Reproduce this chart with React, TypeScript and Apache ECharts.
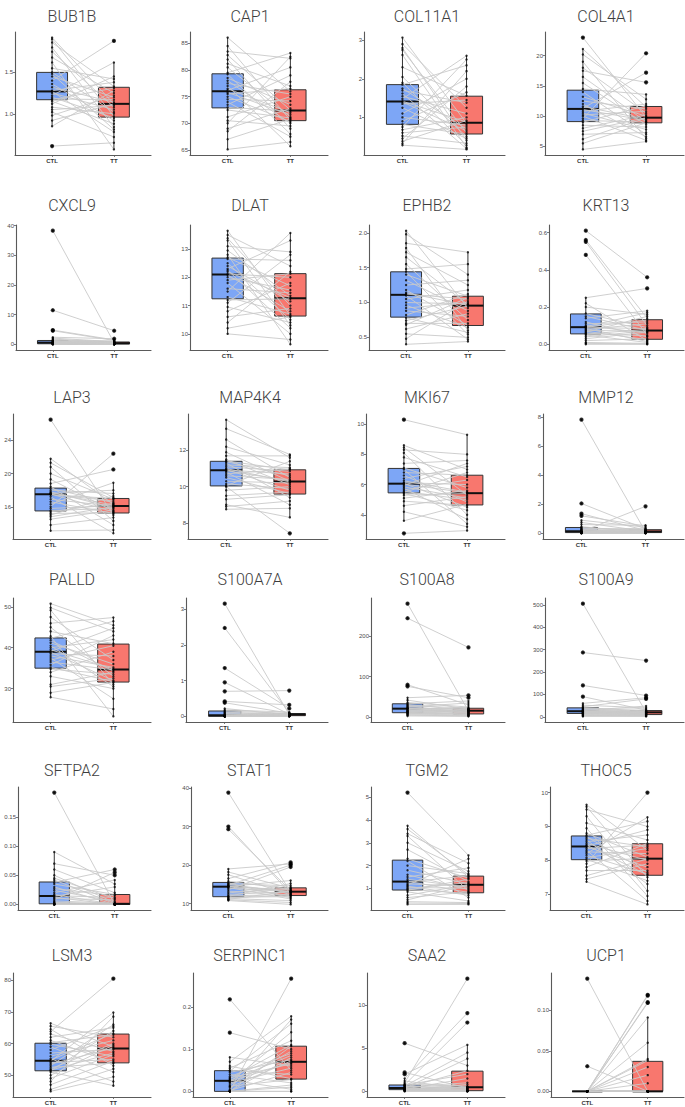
import React, { useEffect, useRef } from "react";
import * as echarts from "echarts";

const GROUPS = ["CTL", "TT"];

const BUB1B_CTL = [1.92,1.90,1.86,1.80,1.75,1.68,1.62,1.55,1.50,1.48,1.45,1.40,1.36,1.32,1.28,1.27,1.25,1.22,1.20,1.18,1.17,1.15,1.12,1.08,1.05,1.02,0.98,0.92,0.85,0.61];
const BUB1B_TT = [1.12,0.97,1.33,0.84,1.08,1.25,0.57,1.42,1.02,0.81,1.20,1.88,0.92,1.14,1.38,0.78,1.05,1.62,0.95,1.17,1.31,0.88,1.45,1.00,1.10,0.72,1.22,1.12,1.28,0.65];
const BUB1B_BOX_CTL = [0.85,1.17,1.27,1.50,1.92];
const BUB1B_BOX_TT = [0.57,0.96,1.12,1.32,1.62];
const BUB1B_TICKS = ["1.0","1.5"];

const CAP1_CTL = [86.1,84.5,83.5,82.8,82.0,81.2,80.5,79.5,79.2,78.5,78.0,77.5,77.0,76.5,76.2,75.8,75.5,75.0,74.5,74.0,73.5,73.0,72.5,71.2,70.5,70.0,69.0,68.5,67.0,65.1];
const CAP1_TT = [76.0,70.6,82.2,72.5,69.0,77.0,71.2,83.2,68.0,73.5,70.0,75.5,65.7,72.0,80.5,71.6,76.5,70.3,74.2,67.5,79.0,72.3,71.0,75.0,69.5,82.5,72.8,77.8,70.8,66.5];
const CAP1_BOX_CTL = [65.1,72.9,76.0,79.3,86.1];
const CAP1_BOX_TT = [65.7,70.5,72.4,76.3,83.2];
const CAP1_TICKS = ["65","70","75","80","85"];

const COL11A1_CTL = [3.07,2.90,2.80,2.75,2.62,2.30,2.05,1.90,1.85,1.75,1.70,1.62,1.55,1.48,1.42,1.40,1.35,1.25,1.10,1.00,0.90,0.82,0.75,0.68,0.60,0.52,0.45,0.38,0.32,0.28];
const COL11A1_TT = [0.85,1.25,0.40,0.60,0.22,1.56,0.50,0.28,2.35,0.70,1.38,0.19,1.10,2.60,0.88,0.65,1.45,0.45,2.00,0.80,1.65,0.56,2.50,1.00,0.75,0.33,1.80,0.92,2.20,0.17];
const COL11A1_BOX_CTL = [0.28,0.82,1.41,1.85,3.07];
const COL11A1_BOX_TT = [0.17,0.57,0.86,1.55,2.6];
const COL11A1_TICKS = ["1","2","3"];

const COL4A1_CTL = [23.0,21.1,20.2,19.0,18.0,17.5,16.5,15.5,14.5,14.0,13.2,12.5,12.0,11.6,11.3,11.1,10.8,10.5,10.2,10.0,9.6,9.3,9.0,8.5,8.0,7.5,7.0,6.2,5.5,4.5];
const COL4A1_TT = [9.8,11.5,12.8,6.3,10.5,15.6,9.1,8.6,13.6,7.0,10.0,11.2,6.6,9.5,17.2,9.3,12.0,7.8,10.8,6.0,20.4,9.0,11.7,8.2,10.2,9.75,7.3,9.7,8.9,5.8];
const COL4A1_BOX_CTL = [4.5,9.1,11.2,14.3,21.1];
const COL4A1_BOX_TT = [5.8,8.9,9.75,11.6,13.6];
const COL4A1_TICKS = ["5","10","15","20"];

const CXCL9_CTL = [38.3,11.5,4.8,4.6,2.4,2.1,1.8,1.5,1.3,1.2,1.1,1.0,0.9,0.8,0.7,0.6,0.55,0.5,0.45,0.4,0.35,0.3,0.25,0.2,0.15,0.12,0.1,0.08,0.05,0.02];
const CXCL9_TT = [0.5,4.6,1.5,1.3,1.9,0.9,0.4,1.1,0.7,0.2,1.0,0.3,0.8,0.15,0.6,0.45,0.1,0.75,0.25,0.55,0.05,0.35,0.12,0.42,0.08,0.22,0.03,0.06,0.02,0.01];
const CXCL9_BOX_CTL = [0.02,0.2,0.6,1.3,2.4];
const CXCL9_BOX_TT = [0.01,0.1,0.4,0.8,1.5];
const CXCL9_TICKS = ["0","10","20","30","40"];

const DLAT_CTL = [13.65,13.5,13.38,13.3,13.1,12.95,12.8,12.7,12.65,12.5,12.4,12.3,12.25,12.2,12.12,12.08,12.0,11.9,11.8,11.6,11.5,11.3,11.2,11.1,10.95,10.8,10.6,10.4,10.2,10.0];
const DLAT_TT = [10.65,12.4,11.0,10.3,12.9,11.35,9.63,11.7,12.6,10.5,11.15,13.3,10.2,11.28,12.0,10.8,11.55,12.13,10.0,11.45,13.57,10.7,11.24,12.8,10.4,11.8,10.9,12.2,10.6,9.8];
const DLAT_BOX_CTL = [10.0,11.24,12.1,12.68,13.65];
const DLAT_BOX_TT = [9.63,10.63,11.26,12.13,13.57];
const DLAT_TICKS = ["10","11","12","13"];

const EPHB2_CTL = [2.03,1.98,1.85,1.78,1.72,1.65,1.55,1.48,1.44,1.40,1.32,1.25,1.18,1.14,1.12,1.10,1.05,1.00,0.96,0.92,0.88,0.82,0.78,0.74,0.70,0.68,0.62,0.55,0.48,0.40];
const EPHB2_TT = [0.92,1.40,1.72,0.60,1.25,0.97,0.75,1.55,0.54,1.09,0.88,1.32,0.67,0.96,1.05,0.47,1.18,0.98,0.64,1.00,0.80,1.12,0.57,0.95,0.70,1.07,0.84,0.50,1.02,0.44];
const EPHB2_BOX_CTL = [0.40,0.79,1.11,1.44,2.03];
const EPHB2_BOX_TT = [0.44,0.67,0.955,1.09,1.72];
const EPHB2_TICKS = ["0.5","1.0","1.5","2.0"];

const KRT13_CTL = [0.61,0.56,0.55,0.48,0.25,0.22,0.20,0.165,0.15,0.14,0.12,0.11,0.10,0.095,0.093,0.09,0.085,0.08,0.075,0.07,0.065,0.06,0.055,0.05,0.04,0.03,0.02,0.01,0.005,0.0];
const KRT13_TT = [0.36,0.14,0.10,0.05,0.30,0.02,0.16,0.09,0.075,0.18,0.04,0.12,0.06,0.17,0.13,0.085,0.015,0.11,0.07,0.025,0.15,0.045,0.08,0.01,0.073,0.065,0.03,0.005,0.002,0.0];
const KRT13_BOX_CTL = [0,0.056,0.092,0.163,0.25];
const KRT13_BOX_TT = [0,0.027,0.074,0.132,0.18];
const KRT13_TICKS = ["0.0","0.2","0.4","0.6"];

const LAP3_CTL = [26.5,21.8,21.3,20.8,20.0,19.3,18.8,18.4,18.2,18.0,17.8,17.7,17.6,17.55,17.5,17.45,17.2,16.9,16.6,16.3,16.0,15.8,15.55,15.4,15.2,15.0,14.8,14.5,13.8,13.1];
const LAP3_TT = [15.0,16.3,17.1,14.3,16.9,15.5,20.5,13.8,16.5,17.6,15.9,16.2,18.0,15.4,16.7,17.0,12.8,16.08,15.2,18.9,22.4,16.12,15.8,16.4,15.28,17.3,16.0,15.6,14.7,13.2];
const LAP3_BOX_CTL = [13.1,15.5,17.5,18.25,21.8];
const LAP3_BOX_TT = [12.8,15.25,16.1,17.0,18.9];
const LAP3_TICKS = ["16","20","24"];

const MAP4K4_CTL = [13.7,13.2,12.6,12.2,11.9,11.7,11.5,11.42,11.38,11.3,11.2,11.1,11.0,10.95,10.92,10.88,10.8,10.7,10.6,10.5,10.3,10.15,10.05,10.0,9.8,9.5,9.3,9.0,8.9,8.75];
const MAP4K4_TT = [11.6,11.78,10.5,11.2,10.3,11.7,10.1,10.93,10.6,9.4,11.05,10.85,10.26,9.8,10.7,10.32,9.0,10.98,10.4,9.62,10.2,9.9,11.4,7.42,10.0,9.7,9.55,8.3,9.2,8.8];
const MAP4K4_BOX_CTL = [8.75,10.04,10.9,11.4,13.7];
const MAP4K4_BOX_TT = [8.3,9.59,10.28,10.93,11.78];
const MAP4K4_TICKS = ["8","10","12"];

const MKI67_CTL = [10.3,8.6,8.45,8.3,8.1,7.8,7.4,7.1,7.0,6.8,6.6,6.4,6.25,6.12,6.08,6.04,5.95,5.85,5.75,5.65,5.55,5.48,5.42,5.3,5.1,4.9,4.6,4.2,3.6,2.77];
const MKI67_TT = [9.3,7.0,5.3,8.0,4.0,6.5,7.6,5.8,3.4,6.62,4.85,7.2,5.5,6.0,4.5,5.45,7.4,5.1,3.7,6.3,5.0,6.8,4.3,5.41,5.6,4.62,5.2,3.2,4.7,2.95];
const MKI67_BOX_CTL = [3.6,5.45,6.06,7.07,8.6];
const MKI67_BOX_TT = [2.95,4.65,5.43,6.62,9.3];
const MKI67_TICKS = ["4","6","8","10"];

const MMP12_CTL = [7.8,2.05,1.35,1.2,0.9,0.75,0.6,0.45,0.4,0.35,0.3,0.26,0.22,0.19,0.16,0.14,0.12,0.1,0.09,0.08,0.07,0.06,0.05,0.045,0.04,0.03,0.02,0.015,0.01,0.0];
const MMP12_TT = [0.1,0.3,0.2,0.5,0.42,0.14,0.55,0.07,0.16,0.25,0.05,0.35,0.12,0.08,0.27,0.03,1.85,0.18,0.115,0.22,0.06,0.13,0.09,0.02,0.075,0.04,0.055,0.015,0.01,0.0];
const MMP12_BOX_CTL = [0,0.05,0.15,0.4,0.9];
const MMP12_BOX_TT = [0,0.05,0.12,0.25,0.55];
const MMP12_TICKS = ["0","2","4","6","8"];

const PALLD_CTL = [50.8,49.8,49.2,47.5,46.0,45.0,44.0,42.8,42.3,41.8,41.2,40.5,40.0,39.5,39.1,38.9,38.5,38.0,37.5,37.0,36.5,35.8,35.2,34.8,34.0,33.0,31.0,30.5,29.0,27.9];
const PALLD_TT = [45.5,44.0,31.0,37.0,47.4,33.0,41.0,23.2,46.5,34.3,36.0,30.5,42.0,34.8,44.8,32.0,38.0,35.2,27.5,40.5,34.6,43.0,31.7,33.5,39.0,30.0,34.0,32.5,31.5,25.0];
const PALLD_BOX_CTL = [27.9,35.0,39.0,42.4,50.8];
const PALLD_BOX_TT = [23.2,31.6,34.7,40.9,47.4];
const PALLD_TICKS = ["30","40","50"];

const S100A7A_CTL = [3.15,2.47,1.35,0.95,0.70,0.42,0.38,0.22,0.18,0.15,0.12,0.1,0.08,0.06,0.04,0.03,0.02,0.015,0.01,0.008,0.005,0.003,0.002,0.001,0,0,0,0,0,0];
const S100A7A_TT = [0.05,0.1,0.22,0.06,0.72,0.32,0.09,0.04,0.12,0.085,0.03,0.075,0.02,0.065,0.08,0.01,0.055,0.052,0.07,0.048,0.045,0.035,0.025,0.018,0.015,0.008,0.005,0.003,0.001,0];
const S100A7A_BOX_CTL = [0,0,0.03,0.15,0.22];
const S100A7A_BOX_TT = [0,0.02,0.05,0.08,0.12];
const S100A7A_TICKS = ["0","1","2","3"];

const S100A8_CTL = [280,244,80,76,48,42,36,33,31,29,27,25,23,22,21.5,20.5,19,17,16,15,14,13,12,11,10,9,8,6,5,3];
const S100A8_TT = [15,172,30,48,54,20,25,40,17,22,12,35,19,9,21,16.5,14,11,18,7,17.5,13,6,15.5,10,8,5,4,3,2];
const S100A8_BOX_CTL = [3,11,21,33,48];
const S100A8_BOX_TT = [2,8,16,22,40];
const S100A8_TICKS = ["0","100","200"];

const S100A9_CTL = [505,287,140,90,60,52,45,41,38,35,32,30,28,26,25.5,24.5,23,21,20,18,17,16,15,14,12,10,8,6,4,2];
const S100A9_TT = [20.5,251,95,30,85,40,80,26,22,35,17,24,48,15,23,14,28,19.5,12,21,18,10,16,9,11,8,6,5,3,2];
const S100A9_BOX_CTL = [2,15,25,40,60];
const S100A9_BOX_TT = [2,10,20,28,48];
const S100A9_TICKS = ["0","100","200","300","400","500"];

const SFTPA2_CTL = [0.192,0.09,0.07,0.06,0.05,0.045,0.042,0.038,0.035,0.03,0.027,0.024,0.02,0.017,0.015,0.014,0.012,0.01,0.008,0.006,0.004,0.003,0.002,0.001,0.001,0,0,0,0,0];
const SFTPA2_TT = [0,0.035,0.05,0.02,0.003,0.01,0.001,0.06,0.017,0,0.015,0.005,0.042,0,0.012,0.03,0,0.008,0.055,0.002,0,0.001,0,0,0,0,0,0,0,0];
const SFTPA2_BOX_CTL = [0,0.001,0.0144,0.0385,0.09];
const SFTPA2_BOX_TT = [0,0,0.001,0.017,0.042];
const SFTPA2_TICKS = ["0.00","0.05","0.10","0.15"];

const STAT1_CTL = [38.8,30.0,29.3,19.0,18.2,17.5,16.5,15.8,15.4,15.2,15.0,14.8,14.6,14.5,14.42,14.38,14.2,14.0,13.6,13.2,12.8,12.4,12.0,11.9,11.7,11.5,11.3,11.1,11.0,10.8];
const STAT1_TT = [13.0,12.6,13.4,20.3,14.0,12.3,20.7,13.8,11.5,14.6,12.9,20.0,13.2,12.05,16.0,13.6,11.2,13.12,19.5,12.8,14.1,13.08,12.4,15.2,11.8,12.15,10.8,13.3,10.3,9.8];
const STAT1_BOX_CTL = [10.8,11.8,14.4,15.5,19.0];
const STAT1_BOX_TT = [9.8,12.1,13.1,14.1,16.0];
const STAT1_TICKS = ["10","20","30","40"];

const TGM2_CTL = [5.2,3.75,3.6,3.4,3.3,3.0,2.7,2.3,2.2,2.0,1.8,1.6,1.5,1.4,1.32,1.28,1.2,1.15,1.1,1.05,1.0,0.96,0.92,0.85,0.7,0.6,0.5,0.42,0.36,0.3];
const TGM2_TT = [2.45,1.5,1.6,2.1,0.9,1.75,1.3,1.45,0.6,1.65,1.2,0.95,1.9,1.05,0.82,1.55,1.1,2.3,0.7,1.0,1.25,0.78,1.4,0.45,1.17,0.85,1.15,0.38,0.34,0.3];
const TGM2_BOX_CTL = [0.3,0.93,1.3,2.24,3.75];
const TGM2_BOX_TT = [0.3,0.81,1.16,1.54,2.45];
const TGM2_TICKS = ["1","2","3","4","5"];

const THOC5_CTL = [9.64,9.58,9.5,9.3,9.1,8.95,8.8,8.74,8.7,8.65,8.6,8.55,8.5,8.45,8.42,8.4,8.35,8.3,8.25,8.2,8.15,8.08,8.03,7.98,7.9,7.8,7.7,7.55,7.45,7.37];
const THOC5_TT = [8.3,7.5,9.0,7.1,8.6,6.95,8.1,9.15,7.65,8.4,7.3,8.75,8.0,7.57,8.9,7.8,8.45,6.8,8.2,9.27,7.6,8.35,7.4,8.06,10.0,8.5,7.7,8.04,7.9,6.7];
const THOC5_BOX_CTL = [7.37,8.02,8.41,8.72,9.64];
const THOC5_BOX_TT = [6.7,7.56,8.05,8.49,9.27];
const THOC5_TICKS = ["7","8","9","10"];

const LSM3_CTL = [66.4,65.5,64.5,63.8,63.0,62.0,61.0,60.3,59.8,59.0,58.0,57.0,56.0,55.2,54.8,54.4,54.0,53.5,53.0,52.5,52.0,51.6,51.4,51.0,50.0,49.0,48.0,47.0,45.5,44.9];
const LSM3_TT = [59.0,62.0,53.0,80.5,57.5,65.0,54.0,62.8,56.0,51.0,65.5,58.2,61.0,48.0,63.2,69.8,55.0,58.6,66.0,53.8,60.0,57.0,64.0,46.7,59.5,56.5,68.5,54.5,52.0,49.5];
const LSM3_BOX_CTL = [44.9,51.4,54.6,60.1,66.4];
const LSM3_BOX_TT = [46.7,53.9,58.4,63.0,69.8];
const LSM3_TICKS = ["50","60","70","80"];

const SERPINC1_CTL = [0.218,0.139,0.081,0.07,0.06,0.055,0.05,0.048,0.045,0.04,0.035,0.032,0.03,0.027,0.026,0.024,0.022,0.02,0.015,0.012,0.01,0.005,0.002,0,0,0,0,0,0,0];
const SERPINC1_TT = [0.05,0.1,0.06,0.178,0.03,0.12,0.04,0.16,0.075,0.02,0.09,0.065,0.11,0.005,0.085,0.068,0.14,0.055,0.095,0.028,0.072,0.17,0.045,0.267,0.08,0.015,0.107,0.01,0,0];
const SERPINC1_BOX_CTL = [0,0,0.025,0.049,0.081];
const SERPINC1_BOX_TT = [0,0.029,0.07,0.107,0.178];
const SERPINC1_TICKS = ["0.0","0.1","0.2"];

const SAA2_CTL = [5.6,2.2,2.0,1.5,1.2,1.0,0.85,0.75,0.72,0.68,0.62,0.55,0.5,0.45,0.42,0.38,0.35,0.32,0.3,0.27,0.25,0.22,0.2,0.18,0.15,0.12,0.1,0.07,0.04,0.0];
const SAA2_TT = [3.0,0.4,5.4,9.1,0.3,13.1,0.6,8.0,2.0,0.2,4.5,0.48,1.0,0.1,2.4,0.35,3.8,0.46,0.08,1.5,0.52,0.25,0.8,0.15,0.06,0.04,0.03,0.02,0.01,0.0];
const SAA2_BOX_CTL = [0,0.2,0.4,0.74,1.5];
const SAA2_BOX_TT = [0,0.08,0.47,2.35,5.4];
const SAA2_TICKS = ["0","5","10"];

const UCP1_CTL = [0.139,0.031,0,0,0,0,0,0,0,0,0,0,0,0,0,0,0,0,0,0,0,0,0,0,0,0,0,0,0,0];
const UCP1_TT = [0,0,0.119,0.118,0.11,0.109,0.091,0.06,0.04,0.038,0.03,0.02,0.01,0,0,0,0,0,0,0,0,0,0,0,0,0,0,0,0,0];
const UCP1_BOX_CTL = [0,0,0,0,0];
const UCP1_BOX_TT = [0,0,0,0.037,0.091];
const UCP1_TICKS = ["0.00","0.05","0.10"];

const PANELS = [
  { gene: "BUB1B", ctl: BUB1B_CTL, tt: BUB1B_TT, boxCtl: BUB1B_BOX_CTL, boxTt: BUB1B_BOX_TT, ticks: BUB1B_TICKS },
  { gene: "CAP1", ctl: CAP1_CTL, tt: CAP1_TT, boxCtl: CAP1_BOX_CTL, boxTt: CAP1_BOX_TT, ticks: CAP1_TICKS },
  { gene: "COL11A1", ctl: COL11A1_CTL, tt: COL11A1_TT, boxCtl: COL11A1_BOX_CTL, boxTt: COL11A1_BOX_TT, ticks: COL11A1_TICKS },
  { gene: "COL4A1", ctl: COL4A1_CTL, tt: COL4A1_TT, boxCtl: COL4A1_BOX_CTL, boxTt: COL4A1_BOX_TT, ticks: COL4A1_TICKS },
  { gene: "CXCL9", ctl: CXCL9_CTL, tt: CXCL9_TT, boxCtl: CXCL9_BOX_CTL, boxTt: CXCL9_BOX_TT, ticks: CXCL9_TICKS },
  { gene: "DLAT", ctl: DLAT_CTL, tt: DLAT_TT, boxCtl: DLAT_BOX_CTL, boxTt: DLAT_BOX_TT, ticks: DLAT_TICKS },
  { gene: "EPHB2", ctl: EPHB2_CTL, tt: EPHB2_TT, boxCtl: EPHB2_BOX_CTL, boxTt: EPHB2_BOX_TT, ticks: EPHB2_TICKS },
  { gene: "KRT13", ctl: KRT13_CTL, tt: KRT13_TT, boxCtl: KRT13_BOX_CTL, boxTt: KRT13_BOX_TT, ticks: KRT13_TICKS },
  { gene: "LAP3", ctl: LAP3_CTL, tt: LAP3_TT, boxCtl: LAP3_BOX_CTL, boxTt: LAP3_BOX_TT, ticks: LAP3_TICKS },
  { gene: "MAP4K4", ctl: MAP4K4_CTL, tt: MAP4K4_TT, boxCtl: MAP4K4_BOX_CTL, boxTt: MAP4K4_BOX_TT, ticks: MAP4K4_TICKS },
  { gene: "MKI67", ctl: MKI67_CTL, tt: MKI67_TT, boxCtl: MKI67_BOX_CTL, boxTt: MKI67_BOX_TT, ticks: MKI67_TICKS },
  { gene: "MMP12", ctl: MMP12_CTL, tt: MMP12_TT, boxCtl: MMP12_BOX_CTL, boxTt: MMP12_BOX_TT, ticks: MMP12_TICKS },
  { gene: "PALLD", ctl: PALLD_CTL, tt: PALLD_TT, boxCtl: PALLD_BOX_CTL, boxTt: PALLD_BOX_TT, ticks: PALLD_TICKS },
  { gene: "S100A7A", ctl: S100A7A_CTL, tt: S100A7A_TT, boxCtl: S100A7A_BOX_CTL, boxTt: S100A7A_BOX_TT, ticks: S100A7A_TICKS },
  { gene: "S100A8", ctl: S100A8_CTL, tt: S100A8_TT, boxCtl: S100A8_BOX_CTL, boxTt: S100A8_BOX_TT, ticks: S100A8_TICKS },
  { gene: "S100A9", ctl: S100A9_CTL, tt: S100A9_TT, boxCtl: S100A9_BOX_CTL, boxTt: S100A9_BOX_TT, ticks: S100A9_TICKS },
  { gene: "SFTPA2", ctl: SFTPA2_CTL, tt: SFTPA2_TT, boxCtl: SFTPA2_BOX_CTL, boxTt: SFTPA2_BOX_TT, ticks: SFTPA2_TICKS },
  { gene: "STAT1", ctl: STAT1_CTL, tt: STAT1_TT, boxCtl: STAT1_BOX_CTL, boxTt: STAT1_BOX_TT, ticks: STAT1_TICKS },
  { gene: "TGM2", ctl: TGM2_CTL, tt: TGM2_TT, boxCtl: TGM2_BOX_CTL, boxTt: TGM2_BOX_TT, ticks: TGM2_TICKS },
  { gene: "THOC5", ctl: THOC5_CTL, tt: THOC5_TT, boxCtl: THOC5_BOX_CTL, boxTt: THOC5_BOX_TT, ticks: THOC5_TICKS },
  { gene: "LSM3", ctl: LSM3_CTL, tt: LSM3_TT, boxCtl: LSM3_BOX_CTL, boxTt: LSM3_BOX_TT, ticks: LSM3_TICKS },
  { gene: "SERPINC1", ctl: SERPINC1_CTL, tt: SERPINC1_TT, boxCtl: SERPINC1_BOX_CTL, boxTt: SERPINC1_BOX_TT, ticks: SERPINC1_TICKS },
  { gene: "SAA2", ctl: SAA2_CTL, tt: SAA2_TT, boxCtl: SAA2_BOX_CTL, boxTt: SAA2_BOX_TT, ticks: SAA2_TICKS },
  { gene: "UCP1", ctl: UCP1_CTL, tt: UCP1_TT, boxCtl: UCP1_BOX_CTL, boxTt: UCP1_BOX_TT, ticks: UCP1_TICKS },
];

// layout (pixels)
const W = 685;
const H = 1107;
const PANEL_LEFT = [
  [15, 190, 364, 545],
  [16, 190, 369, 549],
  [13, 188, 366, 543],
  [13, 186, 371, 545],
  [18, 191, 371, 550],
  [13, 193, 367, 551],
];
const COL_RIGHT = [151, 328, 505, 684];
const ROW_TOP = [32, 225, 414, 598, 787, 973];
const ROW_BOTTOM = [155, 350, 539, 722, 910, 1097];
const TITLE_X = [72, 250, 427, 606];
const TITLE_Y = [16, 205, 397, 579, 770, 955];

const BLUE = "#7da6f6";
const RED = "#f8776e";
const BOX_STROKE = "#333333";
const AXIS = "#5a5a5a";

export default function App() {
  const ref = useRef<HTMLDivElement>(null);

  useEffect(() => {
    if (!ref.current) return;
    const chart = echarts.init(ref.current, null, { renderer: "svg", width: W, height: H });

    const grids: any[] = [];
    const xAxes: any[] = [];
    const yAxes: any[] = [];
    const series: any[] = [];
    const graphics: any[] = [];

    PANELS.forEach((p, i) => {
      const r = Math.floor(i / 4);
      const c = i % 4;
      const left = PANEL_LEFT[r][c];
      const right = COL_RIGHT[c];
      const top = ROW_TOP[r];
      const bottom = ROW_BOTTOM[r];
      grids.push({ left, top, width: right - left, height: bottom - top, containLabel: false });

      const all = p.ctl.concat(p.tt);
      const dmin = Math.min(...all);
      const dmax = Math.max(...all);
      const pad = (dmax - dmin) * 0.05;
      const ymin = dmin - pad;
      const ymax = dmax + pad;
      const tickVals = p.ticks.map((t) => parseFloat(t)).filter((v) => v >= ymin && v <= ymax);
      const tickLabels = p.ticks;

      xAxes.push({
        gridIndex: i,
        type: "value",
        min: 0.4,
        max: 2.6,
        axisLine: { show: true, onZero: false, lineStyle: { color: AXIS, width: 1.1 } },
        axisTick: { show: true, customValues: [1, 2], length: 2, lineStyle: { color: AXIS, width: 0.8 } },
        axisLabel: {
          customValues: [1, 2],
          formatter: (v: number) => (Math.abs(v - 1) < 1e-6 ? GROUPS[0] : GROUPS[1]),
          fontSize: 6,
          fontWeight: "bold",
          fontFamily: "Liberation Sans, Arial, sans-serif",
          color: "#333",
          margin: 3,
        },
        splitLine: { show: false },
      });
      yAxes.push({
        gridIndex: i,
        type: "value",
        min: ymin,
        max: ymax,
        axisLine: { show: true, onZero: false, lineStyle: { color: AXIS, width: 1.1 } },
        axisTick: { show: true, customValues: tickVals, length: 2, lineStyle: { color: AXIS, width: 0.8 } },
        axisLabel: {
          customValues: tickVals,
          formatter: (v: number) => {
            const k = tickLabels.findIndex((t) => Math.abs(parseFloat(t) - v) < 1e-9);
            return k >= 0 ? tickLabels[k] : "";
          },
          fontSize: 6,
          fontFamily: "Liberation Sans, Arial, sans-serif",
          color: "#4d4d4d",
          margin: 2,
        },
        splitLine: { show: false },
      });

      // boxes
      series.push({
        type: "custom",
        xAxisIndex: i,
        yAxisIndex: i,
        silent: true,
        z: 2,
        data: [[1].concat(p.boxCtl), [2].concat(p.boxTt)],
        encode: { x: 0, y: [1, 2, 3, 4, 5] },
        renderItem: (params: any, api: any) => {
          const x = api.value(0);
          const lw = api.value(1);
          const q1 = api.value(2);
          const med = api.value(3);
          const q3 = api.value(4);
          const uw = api.value(5);
          const tl = api.coord([x - 0.25, q3]);
          const br = api.coord([x + 0.25, q1]);
          const cm = api.coord([x, med]);
          const pl = api.coord([x, lw]);
          const pu = api.coord([x, uw]);
          const fill = x === 1 ? BLUE : RED;
          const lineStyle = { stroke: BOX_STROKE, lineWidth: 1 };
          return {
            type: "group",
            children: [
              { type: "line", shape: { x1: cm[0], y1: pu[1], x2: cm[0], y2: tl[1] }, style: lineStyle },
              { type: "line", shape: { x1: cm[0], y1: br[1], x2: cm[0], y2: pl[1] }, style: lineStyle },
              {
                type: "rect",
                shape: { x: tl[0], y: tl[1], width: br[0] - tl[0], height: Math.max(br[1] - tl[1], 0.01) },
                style: { fill, stroke: BOX_STROKE, lineWidth: 1 },
              },
              { type: "line", shape: { x1: tl[0], y1: cm[1], x2: br[0], y2: cm[1] }, style: { stroke: "#111", lineWidth: 2 } },
            ],
          };
        },
      });

      // paired lines
      series.push({
        type: "custom",
        xAxisIndex: i,
        yAxisIndex: i,
        silent: true,
        z: 3,
        data: p.ctl.map((v, k) => [1, v, 2, p.tt[k]]),
        encode: { x: [0, 2], y: [1, 3] },
        renderItem: (params: any, api: any) => {
          const a = api.coord([api.value(0), api.value(1)]);
          const b = api.coord([api.value(2), api.value(3)]);
          return {
            type: "line",
            shape: { x1: a[0], y1: a[1], x2: b[0], y2: b[1] },
            style: { stroke: "#c9c9c9", lineWidth: 0.9 },
          };
        },
      });

      const isOut = (v: number, box: number[]) => v < box[0] - 1e-9 || v > box[4] + 1e-9;
      const outliers = p.ctl.filter((v) => isOut(v, p.boxCtl)).map((v) => [1, v])
        .concat(p.tt.filter((v) => isOut(v, p.boxTt)).map((v) => [2, v]));
      series.push({
        type: "scatter",
        xAxisIndex: i,
        yAxisIndex: i,
        silent: true,
        z: 4,
        symbol: "circle",
        symbolSize: 4.2,
        itemStyle: { color: "#000" },
        data: outliers,
      });
      series.push({
        type: "scatter",
        xAxisIndex: i,
        yAxisIndex: i,
        silent: true,
        z: 5,
        symbol: "circle",
        symbolSize: 2.4,
        itemStyle: { color: "#000" },
        data: p.ctl.map((v) => [1, v]).concat(p.tt.map((v) => [2, v])),
      });

      graphics.push({
        type: "text",
        x: TITLE_X[c],
        y: TITLE_Y[r],
        silent: true,
        style: {
          text: p.gene,
          fill: "#3d3d3d",
          fontSize: 16,
          fontWeight: 300,
          fontFamily: "Roboto, 'Noto Sans', sans-serif",
          textAlign: "center",
          textVerticalAlign: "middle",
          align: "center",
          verticalAlign: "middle",
        },
      });
    });

    chart.setOption({
      animation: false,
      backgroundColor: "#ffffff",
      grid: grids,
      xAxis: xAxes,
      yAxis: yAxes,
      series,
      graphic: graphics,
    });

    return () => chart.dispose();
  }, []);

  return <div ref={ref} style={{ position: "absolute", left: 0, top: 0, width: W, height: H }} />;
}
